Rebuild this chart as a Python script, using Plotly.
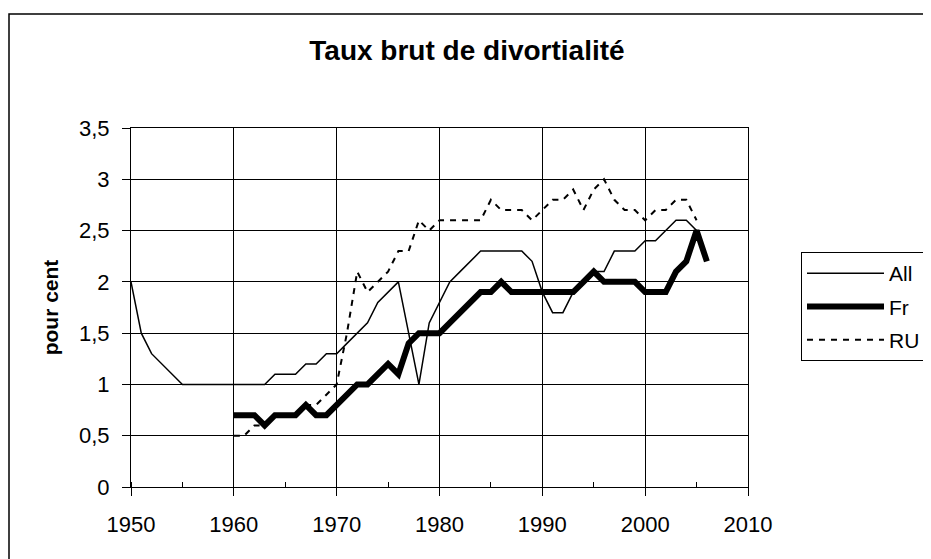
import plotly.graph_objects as go

years_all = list(range(1950, 2006))
all_vals = [
    2.0, 1.5, 1.3, 1.2, 1.1, 1.0, 1.0, 1.0, 1.0, 1.0,
    1.0, 1.0, 1.0, 1.0, 1.1, 1.1, 1.1, 1.2, 1.2, 1.3,
    1.3, 1.4, 1.5, 1.6, 1.8, 1.9, 2.0, 1.5, 1.0, 1.6,
    1.8, 2.0, 2.1, 2.2, 2.3, 2.3, 2.3, 2.3, 2.3, 2.2,
    1.9, 1.7, 1.7, 1.9, 2.0, 2.1, 2.1, 2.3, 2.3, 2.3,
    2.4, 2.4, 2.5, 2.6, 2.6, 2.5,
]

years_fr = list(range(1960, 2007))
fr_vals = [
    0.7, 0.7, 0.7, 0.6, 0.7, 0.7, 0.7, 0.8, 0.7, 0.7,
    0.8, 0.9, 1.0, 1.0, 1.1, 1.2, 1.1, 1.4, 1.5, 1.5,
    1.5, 1.6, 1.7, 1.8, 1.9, 1.9, 2.0, 1.9, 1.9, 1.9,
    1.9, 1.9, 1.9, 1.9, 2.0, 2.1, 2.0, 2.0, 2.0, 2.0,
    1.9, 1.9, 1.9, 2.1, 2.2, 2.5, 2.2,
]

years_ru = list(range(1960, 2006))
ru_vals = [
    0.5, 0.5, 0.6, 0.6, 0.7, 0.7, 0.7, 0.8, 0.8, 0.9,
    1.0, 1.5, 2.1, 1.9, 2.0, 2.1, 2.3, 2.3, 2.6, 2.5,
    2.6, 2.6, 2.6, 2.6, 2.6, 2.8, 2.7, 2.7, 2.7, 2.6,
    2.7, 2.8, 2.8, 2.9, 2.7, 2.9, 3.0, 2.8, 2.7, 2.7,
    2.6, 2.7, 2.7, 2.8, 2.8, 2.6,
]

FONT = "Arial, Liberation Sans, sans-serif"

fig = go.Figure()
fig.add_trace(go.Scatter(
    x=years_all, y=all_vals, name="All", mode="lines", legendgroup="all",
    line=dict(color="black", width=1.5),
))
fig.add_trace(go.Scatter(
    x=years_fr, y=fr_vals, name="Fr", mode="lines", legendgroup="fr",
    line=dict(color="black", width=6),
))
fig.add_trace(go.Scatter(
    x=years_ru, y=ru_vals, name="RU", mode="lines", legendgroup="ru",
    line=dict(color="black", width=2, dash="6px,6px"),
))

# outer chart-area border (runs off the right and bottom edges)
fig.add_shape(
    type="rect", xref="paper", yref="paper",
    x0=-122 / 617, x1=1.31, y0=-0.25, y1=(487 - 14) / 359,
    line=dict(color="black", width=1.5), fillcolor="rgba(0,0,0,0)",
    layer="below",
)

fig.update_layout(
    width=931, height=559,
    margin=dict(l=123, r=191, t=120, b=80),
    paper_bgcolor="white", plot_bgcolor="white",
    separators=", ",
    font=dict(family=FONT, color="black", size=22),
    title=dict(
        text="<b>Taux brut de divortialité</b>",
        x=0.493, xanchor="center", y=0.925, yanchor="middle",
        font=dict(size=28, family=FONT, color="black"),
    ),
    showlegend=True,
    legend=dict(
        x=(801 - 131) / 617, xanchor="left",
        y=(487 - 252) / 359, yanchor="top",
        bordercolor="black", borderwidth=1, bgcolor="white",
        font=dict(size=21, family=FONT, color="black"),
        itemwidth=77, tracegroupgap=3,
    ),
    xaxis=dict(
        range=[1950, 2010], dtick=10, tick0=1950,
        showgrid=True, gridcolor="black", gridwidth=1,
        showline=True, linecolor="black", linewidth=1, mirror=True,
        ticks="outside", ticklen=8, tickcolor="black",
        minor=dict(dtick=5, ticks="inside", ticklen=5, tickcolor="black", showgrid=False),
        zeroline=False, tickfont=dict(size=22), ticklabelstandoff=10,
        automargin=False,
    ),
    yaxis=dict(
        range=[0, 3.5], dtick=0.5,
        showgrid=True, gridcolor="black", gridwidth=1,
        showline=True, linecolor="black", linewidth=1, mirror=True,
        ticks="outside", ticklen=8, tickcolor="black",
        zeroline=False, tickfont=dict(size=22), ticklabelstandoff=8,
        title=dict(text="<b>pour cent</b>", font=dict(size=21), standoff=14),
        automargin=False,
    ),
)

fig.write_html("out.html")
